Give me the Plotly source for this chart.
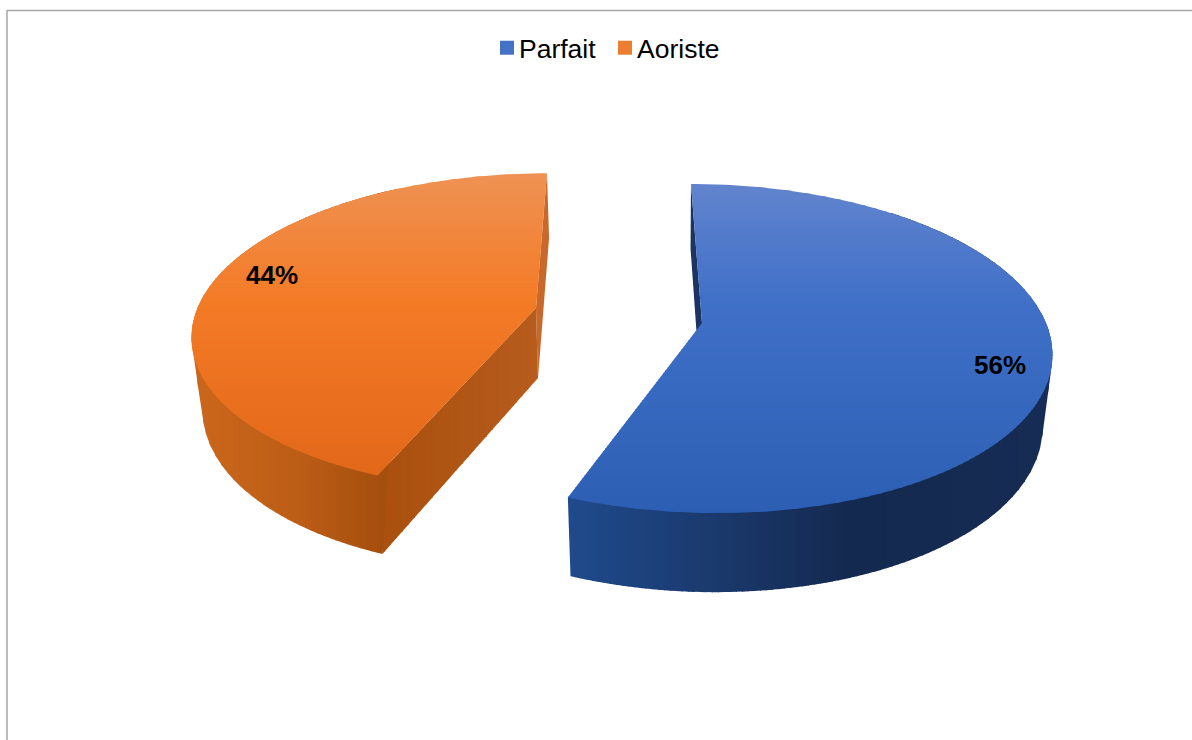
import numpy as np
import plotly.graph_objects as go

# ---- chart data ----
categories = ["Parfait", "Aoriste"]
shares = [56, 44]
legend_colors = ["#4472C4", "#ED7D31"]

# ---- perspective view of each exploded slice (pixel scale) ----
VX = 620
TOP = {"Parfait": dict(ax=702, ay=323, f=344, g=160.6, k=.155),
       "Aoriste": dict(ax=536, ay=308, f=338.5, g=155, k=.15)}
BOT = {"Parfait": dict(ax=701, ay=395, f=336, g=168, k=.148),
       "Aoriste": dict(ax=538, ay=378, f=329, g=161.8, k=.156)}
TOP_RAMP = {"Parfait": [(184, "#6284CE"), (300, "#4070C8"), (513, "#2C5FB4")],
            "Aoriste": [(173, "#EE9254"), (300, "#F47B26"), (476, "#E2681A")]}
WALL_RAMP = {"Parfait": [(570, "#1F4A8C"), (700, "#1B3B70"), (850, "#14294F"), (1050, "#162C54")],
             "Aoriste": [(195, "#CB671C"), (300, "#BC5D16"), (380, "#A54F0E")]}
FLAT_RAMP = [(380, "#AA4F0E"), (537, "#B65C1C")]
SLIVER = {"Parfait": "#1B3462", "Aoriste": "#C8692B"}
LABEL_POS = {"Parfait": (1000, 365), "Aoriste": (272, 275)}


def hex2rgb(h):
    return np.array([int(h[i:i + 2], 16) for i in (1, 3, 5)], float)


def ramp(stops, v):
    xs = [s[0] for s in stops]
    rgb = [np.interp(v, xs, [hex2rgb(s[1])[c] for s in stops]) for c in range(3)]
    return "rgb(%d,%d,%d)" % tuple(round(c) for c in rgb)


def project(p, theta):
    X, Y = np.sin(theta), np.cos(theta)
    d = 1 + p["k"] * Y
    return VX + (p["ax"] - VX + p["f"] * X) / d, p["ay"] - p["g"] * Y / d


def clip(pts, lim, keep_above, axis=1):
    out = []
    n = len(pts)
    for i in range(n):
        a, b = pts[i], pts[(i + 1) % n]
        ina = a[axis] >= lim if keep_above else a[axis] <= lim
        inb = b[axis] >= lim if keep_above else b[axis] <= lim
        if ina:
            out.append(a)
        if ina != inb:
            t = (lim - a[axis]) / (b[axis] - a[axis])
            q = (a[0] + t * (b[0] - a[0]), a[1] + t * (b[1] - a[1]))
            out.append(q)
    return out


def hull(points):
    pts = sorted(set(points))

    def half(seq):
        h = []
        for p in seq:
            while len(h) > 1 and ((h[-1][0] - h[-2][0]) * (p[1] - h[-2][1])
                                  - (h[-1][1] - h[-2][1]) * (p[0] - h[-2][0])) <= 0:
                h.pop()
            h.append(p)
        return h[:-1]

    return half(pts) + half(pts[::-1])


fig = go.Figure()


def poly(xs, ys, color):
    fig.add_trace(go.Scatter(x=list(xs), y=list(ys), mode="lines", fill="toself",
                             fillcolor=color, line=dict(width=0, color=color),
                             hoverinfo="skip", showlegend=False))


def bands(outline, step, axis, colour):
    vals = [p[axis] for p in outline]
    for v in np.arange(min(vals), max(vals), step):
        piece = clip(clip(outline, v, True, axis), v + step + 1.0, False, axis)
        if len(piece) > 2:
            poly([p[0] for p in piece], [p[1] for p in piece], colour(v + step / 2))


fractions = np.cumsum([0] + shares) / sum(shares) * 2 * np.pi
spans = {c: (fractions[i], fractions[i + 1]) for i, c in enumerate(categories)}

for cat in categories:
    a0, a1 = spans[cat]
    t, b = TOP[cat], BOT[cat]
    far = a0 if cat == "Parfait" else a1
    # inner wall toward the far edge
    poly([project(t, far)[0], project(b, far)[0], b["ax"], t["ax"]],
         [project(t, far)[1], project(b, far)[1], b["ay"], t["ay"]],
         SLIVER[cat])
    # flat front wall of the orange slice
    if cat == "Aoriste":
        flat = [project(t, a0), project(b, a0), (b["ax"], b["ay"]), (t["ax"], t["ay"])]
        flat = [(float(p[0]), float(p[1])) for p in flat]
        bands(flat, 6.0, 0, lambda v: ramp(FLAT_RAMP, v))
    # outer wall in vertical colour bands
    w0, w1 = (np.radians(40), a1) if cat == "Parfait" else (a0, np.radians(330))
    th = np.linspace(w0, w1, 200)
    xt, yt = project(t, th)
    xb, yb = project(b, th)
    wall = hull([(float(x), float(y)) for x, y in zip(np.r_[xt, xb], np.r_[yt, yb])])
    bands(wall, 6.0, 0, lambda v, c=cat: ramp(WALL_RAMP[c], v))
    # top face in horizontal colour bands
    th = np.linspace(a0, a1, 240)
    ax_, ay_ = project(t, th)
    outline = [(float(t["ax"]), float(t["ay"]))] + [(float(x), float(y)) for x, y in zip(ax_, ay_)]
    bands(outline, 3.0, 1, lambda v, c=cat: ramp(TOP_RAMP[c], v))

# legend entries
for cat, col in zip(categories, legend_colors):
    fig.add_trace(go.Scatter(x=[None], y=[None], mode="markers", name=cat,
                             marker=dict(symbol="square", size=14, color=col)))

# data labels
total = sum(shares)
for cat, val in zip(categories, shares):
    x, y = LABEL_POS[cat]
    fig.add_annotation(x=x, y=y, text="<b>%d%%</b>" % round(100 * val / total), showarrow=False,
                       font=dict(family="Liberation Sans", size=26, color="black"))

fig.update_layout(
    width=1192, height=740, margin=dict(l=0, r=0, t=0, b=0),
    paper_bgcolor="white", plot_bgcolor="white",
    xaxis=dict(range=[0, 1192], visible=False, fixedrange=True),
    yaxis=dict(range=[740, 0], visible=False, fixedrange=True),
    font=dict(family="Liberation Sans", color="black"),
    legend=dict(orientation="h", x=479 / 1192, xanchor="left", y=1 - 48 / 740, yanchor="middle",
                font=dict(size=26.5), bgcolor="rgba(0,0,0,0)", itemclick=False, itemdoubleclick=False,
                entrywidth=73, entrywidthmode="pixels"),
    shapes=[dict(type="line", xref="x", yref="y", x0=7, x1=7, y0=10, y1=740,
                 line=dict(color="#A6A6A6", width=1.5)),
            dict(type="line", xref="x", yref="y", x0=7, x1=1192, y0=10.5, y1=10.5,
                 line=dict(color="#A6A6A6", width=1.5))],
)
fig.write_html("out.html", config={"displayModeBar": False},
               post_script="document.body.style.margin='0';"
                           "document.querySelectorAll('.legend').forEach(function(e){e.removeAttribute('clip-path');});"
                           "document.querySelectorAll('.legend .scrollbox').forEach(function(e){e.removeAttribute('clip-path');});"
                           "document.querySelectorAll('.legendsymbols').forEach(function(e){"
                           "e.setAttribute('transform',(e.getAttribute('transform')||'')+' translate(8,0)');});")
